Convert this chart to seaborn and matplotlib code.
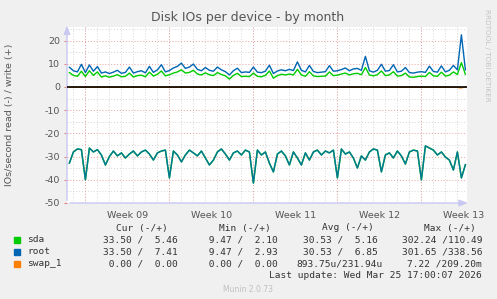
import numpy as np
import pandas as pd
import matplotlib
matplotlib.use("Agg")
import matplotlib.pyplot as plt
from matplotlib.patches import Rectangle
import seaborn as sns

# ---------------- data ----------------
# read rates (shown negative), identical for sda and root
read_root = [32.8, 28.0, 26.7, 27.0, 40.0, 26.3, 28.0, 27.0, 29.3, 33.6,
             30.0, 27.6, 29.7, 28.4, 30.6, 28.9, 27.6, 29.7, 28.0, 27.2,
             28.9, 31.5, 28.4, 27.6, 27.2, 39.2, 27.6, 29.3, 32.3, 29.3,
             27.2, 28.4, 29.7, 27.6, 30.6, 33.6, 31.5, 28.0, 26.7, 28.9,
             31.5, 28.4, 27.6, 29.3, 27.2, 28.0, 41.4, 27.2, 29.3, 28.0,
             32.8, 36.6, 28.9, 27.6, 29.7, 33.6, 28.0, 30.6, 33.6, 28.4,
             31.5, 28.0, 27.2, 29.3, 27.6, 28.4, 27.2, 39.2, 26.7, 28.9,
             28.0, 30.6, 34.9, 29.7, 31.5, 28.0, 26.7, 27.2, 36.6, 29.3,
             28.4, 30.6, 27.6, 29.7, 33.2, 28.0, 27.2, 27.6, 40.0, 25.4,
             26.3, 27.2, 29.3, 28.0, 30.2, 31.5, 35.8, 28.0, 39.2, 33.5]
read_sda = read_root

write_root = [8.5, 7.0, 6.5, 9.8, 6.2, 9.5, 6.8, 8.8, 6.0, 6.5,
              5.8, 6.4, 7.2, 5.9, 6.3, 8.6, 6.0, 6.6, 7.0, 6.1,
              8.9, 6.3, 7.4, 9.6, 6.5, 7.1, 8.2, 8.9, 10.3, 8.0,
              8.6, 9.9, 7.6, 7.0, 8.4, 7.2, 6.8, 8.6, 7.4, 6.6,
              5.2, 7.0, 8.1, 6.2, 6.5, 6.3, 8.6, 6.4, 6.2, 6.8,
              9.4, 5.8, 6.9, 7.4, 7.0, 7.6, 7.1, 10.8, 7.2, 6.5,
              9.3, 6.7, 6.2, 6.4, 6.6, 9.2, 6.8, 7.0, 7.5, 8.2,
              7.0, 7.8, 8.0, 7.2, 13.2, 7.0, 6.4, 7.2, 9.8, 6.8,
              7.1, 9.6, 6.5, 6.8, 8.4, 6.2, 6.0, 6.4, 6.6, 6.3,
              9.0, 6.7, 6.4, 9.1, 6.5, 7.2, 9.3, 7.4, 22.5, 7.41]

write_sda = [6.2, 5.0, 4.6, 6.8, 4.5, 7.0, 5.0, 6.5, 4.3, 4.8,
             4.2, 4.7, 5.3, 4.4, 4.6, 6.0, 4.3, 4.9, 5.1, 4.4,
             6.4, 4.7, 5.5, 6.9, 4.8, 5.3, 6.0, 6.5, 7.4, 6.0,
             6.3, 7.2, 5.6, 5.2, 6.1, 5.3, 4.9, 6.2, 5.4, 4.8,
             3.4, 5.0, 5.9, 4.5, 4.6, 4.5, 6.0, 4.6, 4.4, 5.0,
             6.9, 3.8, 4.9, 5.5, 5.2, 5.6, 5.2, 7.6, 5.2, 4.6,
             6.6, 4.8, 4.5, 4.6, 4.7, 6.5, 4.9, 5.1, 5.6, 6.0,
             5.2, 5.7, 5.9, 5.3, 8.4, 5.2, 4.8, 5.3, 6.9, 4.9,
             5.2, 6.6, 4.7, 4.9, 6.0, 4.3, 4.2, 4.5, 4.7, 4.5,
             6.3, 4.8, 4.6, 6.4, 4.7, 5.1, 6.5, 5.4, 10.5, 5.46]

swap_read = [0, 0, 0, 0, 0, 0, 0, 0, 0, 0, 0, 0, 0, 0, 0, 0, 0, 0, 0, 0,
             0, 0, 0, 0, 0, 0, 0, 0, 0, 0, 0, 0, 0, 0, 0, 0, 0, 0, 0, 0,
             0, 0, 0, 0, 0, 0, 0, 0, 0, 0, 0, 0, 0, 0, 0, 0, 0, 0, 0, 0,
             0, 0, 0, 0, 0, 0, 0, 0, 0, 0, 0, 0, 0, 0, 0, 0, 0, 0, 0, 0,
             0, 0, 0, 0, 0, 0, 0, 0, 0, 0, 0, 0, 0, 0, 0, 0, 0, 0.3, 0.5, 0]
swap_write = [0] * 100

week_labels = ["Week 09", "Week 10", "Week 11", "Week 12", "Week 13"]
week_starts = [1.533, 8.533, 15.533, 22.533, 29.533]   # days from left edge

legend_names = ["sda", "root", "swap_1"]
legend_colors = ["#00cc00", "#0066b3", "#ff8000"]
cur_vals = ["33.50 /  5.46", "33.50 /  7.41", " 0.00 /  0.00"]
min_vals = [" 9.47 /  2.10", " 9.47 /  2.93", " 0.00 /  0.00"]
avg_vals = ["30.53 /  5.16", "30.53 /  6.85", "893.75u/231.94u"]
max_vals = ["302.24 /110.49", "301.65 /338.56", "7.22 /209.20m"]

# time axis: one sample every 8 hours
days = np.arange(len(read_root)) / 3.0 + 0.2

df = pd.DataFrame({
    "day": days,
    "sda_r": -np.array(read_sda), "sda_w": write_sda,
    "root_r": -np.array(read_root), "root_w": write_root,
    "swap_r": -np.array(swap_read, dtype=float), "swap_w": swap_write,
})

# ---------------- figure ----------------
W, H = 497, 299
fig = plt.figure(figsize=(W / 100, H / 100), dpi=100, facecolor="#f0f0f0")
L, R, T, B = 67, 467, 27, 203
ax = fig.add_axes([L / W, 1 - B / H, (R - L) / W, (B - T) / H])
ax.set_facecolor("white")

xmax = (R - L) / 12.0
ymin, ymax = -50, (87 - T) / 2.32
ax.set_xlim(0, xmax)
ax.set_ylim(ymin, ymax)

# grid
minor_c = "#d4d4d4"
major_c = "#eaa0a0"
for y in np.arange(-45, ymax, 5):
    if y % 10 != 0:
        ax.axhline(y, color=minor_c, lw=0.7, ls=(0, (1, 2)), zorder=0)
for y in np.arange(-40, ymax, 10):
    ax.axhline(y, color=major_c, lw=0.7, ls=(0, (1, 2)), zorder=0.5)
for d in np.arange(0.533, xmax, 1.0):
    ax.axvline(d, color=minor_c, lw=0.7, ls=(0, (1, 2)), zorder=0)
for d in week_starts:
    ax.axvline(d, color=major_c, lw=0.7, ls=(0, (1, 2)), zorder=0.5)

# lines
sns.lineplot(data=df, x="day", y="swap_r", color="#ff8000", lw=0.6, ax=ax, zorder=1)
sns.lineplot(data=df, x="day", y="swap_w", color="#ff8000", lw=0.6, ax=ax, zorder=1)
sns.lineplot(data=df, x="day", y="sda_r", color="#00cc00", lw=1.1, ax=ax, zorder=3)
sns.lineplot(data=df, x="day", y="sda_w", color="#00cc00", lw=1.0, ax=ax, zorder=3)
sns.lineplot(data=df, x="day", y="root_r", color="#0066b3", lw=1.0, alpha=0.85, ax=ax, zorder=4)
sns.lineplot(data=df, x="day", y="root_w", color="#0066b3", lw=1.0, ax=ax, zorder=4)
ax.axhline(0, color="black", lw=1.2, zorder=5)

# axes styling
for s in ax.spines.values():
    s.set_visible(False)
axis_c = "#c8c8f0"
ax.annotate("", xy=(0, ymax + 1.8), xytext=(0, ymin), xycoords="data",
            arrowprops=dict(arrowstyle="-|>,head_length=0.5,head_width=0.2",
                            color=axis_c, lw=1), annotation_clip=False)
ax.annotate("", xy=(xmax + 0.3, ymin), xytext=(0, ymin), xycoords="data",
            arrowprops=dict(arrowstyle="-|>,head_length=0.5,head_width=0.2",
                            color=axis_c, lw=1), annotation_clip=False)

ax.set_yticks(np.arange(-50, 21, 10))
ax.set_yticklabels([str(v) for v in np.arange(-50, 21, 10)])
ax.set_xticks([d + 3.5 for d in week_starts])
ax.set_xticklabels(week_labels)
ax.tick_params(axis="y", length=2, color="#e08080", labelsize=6.8,
               labelcolor="#555555", pad=3)
ax.tick_params(axis="x", length=0, labelsize=6.8, labelcolor="#555555", pad=6)
ax.set_xlabel("")
ax.set_ylabel("")

fig.text(248 / W, 1 - 17 / H, "Disk IOs per device - by month", ha="center",
         va="center", fontsize=9, color="#555555")
fig.text(10 / W, 1 - 115 / H, "IOs/second read (-) / write (+)", rotation=90,
         ha="center", va="center", fontsize=6.8, color="#555555")
fig.text(487 / W, 1 - 55 / H, "RRDTOOL / TOBI OETIKER", rotation=270,
         ha="center", va="center", fontsize=5.2, color="#c4c4c4")

# legend
mono = dict(family="DejaVu Sans Mono", fontsize=6.8, color="#333333")
def fx(x):
    return x / W
def fy(y):
    return 1 - y / H

col_right = [178, 278, 378, 482]
header_right = [168, 271, 374, 476]
headers = ["Cur (-/+)", "Min (-/+)", "Avg (-/+)", "Max (-/+)"]
for xr, h in zip(header_right, headers):
    fig.text(fx(xr), fy(228), h, ha="right", va="center", **mono)
rows_y = [240, 252, 264]
for i, name in enumerate(legend_names):
    y = rows_y[i]
    fig.patches.append(Rectangle((fx(14), fy(y + 3)), 6 / W, 6 / H,
                                 transform=fig.transFigure, color=legend_colors[i]))
    fig.text(fx(27), fy(y), name, ha="left", va="center", **mono)
    vals = [cur_vals[i], min_vals[i], avg_vals[i], max_vals[i]]
    for j, (xr, v) in enumerate(zip(col_right, vals)):
        if j == 2 and i == 2:
            xr = 383
        fig.text(fx(xr), fy(y), v, ha="right", va="center", **mono)
fig.text(fx(482), fy(276), "Last update: Wed Mar 25 17:00:07 2026",
         ha="right", va="center", **mono)
fig.text(fx(248), fy(289), "Munin 2.0.73", ha="center", va="center",
         fontsize=5.5, color="#c0c0c0")

fig.savefig("out.png", dpi=100, facecolor=fig.get_facecolor())
